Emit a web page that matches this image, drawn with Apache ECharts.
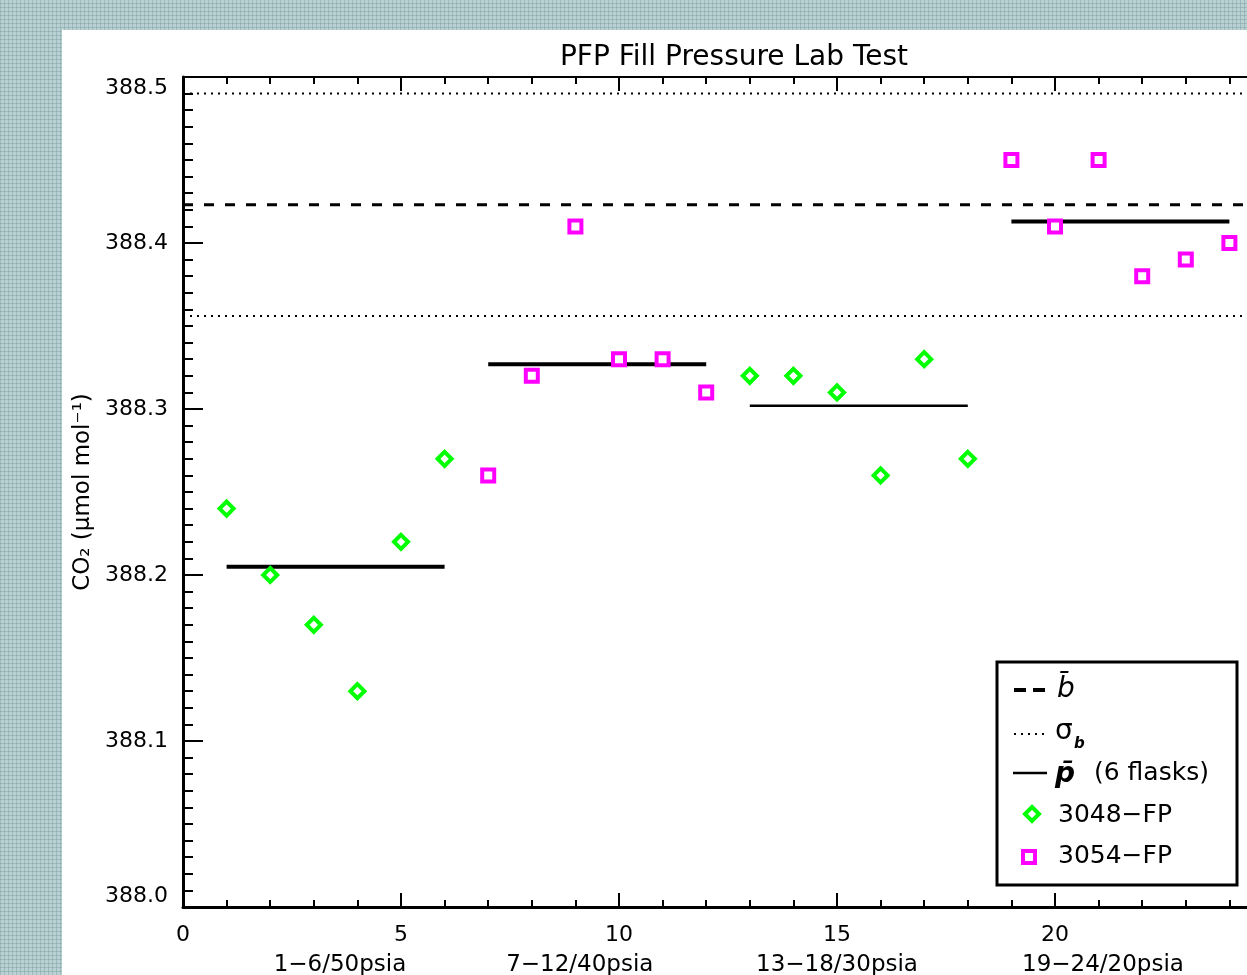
<!DOCTYPE html>
<html>
<head>
<meta charset="utf-8">
<script src="https://cdn.jsdelivr.net/npm/echarts@6/dist/echarts.min.js"></script>
<style>
html, body { margin: 0; padding: 0; width: 1247px; height: 975px; overflow: hidden; }
body {
  background-color: #b9d1d2;
  background-image:
    linear-gradient(90deg, rgba(120,158,162,0.45) 1px, transparent 1px),
    linear-gradient(0deg, rgba(120,158,162,0.45) 1px, transparent 1px);
  background-size: 4px 4px;
}
#panel { position: absolute; left: 62px; top: 30px; right: 0; bottom: 0; background: #ffffff; }
#chart { position: absolute; left: 0; top: 0; width: 1290px; height: 975px; }
</style>
</head>
<body>
<div id="panel"></div>
<div id="chart"></div>
<script>
// ---- data ----
const titleText = 'PFP Fill Pressure Lab Test';
const yAxisName = 'CO\u2082 (\u03bcmol mol\u207b\u00b9)';

const flask3048X = [1, 2, 3, 4, 5, 6, 13, 14, 15, 16, 17, 18];
const flask3048Y = [388.24, 388.20, 388.17, 388.13, 388.22, 388.27, 388.32, 388.32, 388.31, 388.26, 388.33, 388.27];
const flask3054X = [7, 8, 9, 10, 11, 12, 19, 20, 21, 22, 23, 24];
const flask3054Y = [388.26, 388.32, 388.41, 388.33, 388.33, 388.31, 388.45, 388.41, 388.45, 388.38, 388.39, 388.40];

const groupStart = [1, 7, 13, 19];
const groupEnd = [6, 12, 18, 24];
const groupMean = [388.205, 388.327, 388.302, 388.413];
const groupLineWidth = [4, 4, 2.5, 4];

const groupLabels = ['1\u22126/50psia', '7\u221212/40psia', '13\u221218/30psia', '19\u221224/20psia'];
const groupLabelX = [3.6, 9.1, 15.0, 21.1];

const bMean = 388.423;
const sigmaLow = 388.356;
const sigmaHigh = 388.490;

const xMin = 0, xMax = 25, xInterval = 5;
const yMin = 388.0, yMax = 388.5, yInterval = 0.1;

// ---- chart ----
const FONT = '"DejaVu Sans", "Liberation Sans", sans-serif';
const chart = echarts.init(document.getElementById('chart'), null, { renderer: 'canvas' });

function pair(x, y) { return [x, y]; }

const series = [];
series.push({
  type: 'line', name: 'b', silent: true, symbol: 'none', z: 2,
  data: [pair(xMin, bMean), pair(xMax, bMean)],
  lineStyle: { color: '#000', width: 3, type: [10, 11] }
});
[sigmaLow, sigmaHigh].forEach(v => {
  series.push({
    type: 'line', name: 'sigma', silent: true, symbol: 'none', z: 2,
    data: [pair(xMin, v), pair(xMax, v)],
    lineStyle: { color: '#000', width: 2, type: [2, 5] }
  });
});
groupMean.forEach((m, i) => {
  series.push({
    type: 'line', name: 'p', silent: true, symbol: 'none', z: 3,
    data: [pair(groupStart[i], m), pair(groupEnd[i], m)],
    lineStyle: { color: '#000', width: groupLineWidth[i], type: 'solid' }
  });
});
series.push({
  type: 'scatter', name: '3048-FP', z: 5,
  data: flask3048X.map((x, i) => [x, flask3048Y[i]]),
  symbol: 'diamond', symbolSize: 14,
  itemStyle: { color: '#ffffff', borderColor: '#00ff00', borderWidth: 4, opacity: 1 }
});
series.push({
  type: 'scatter', name: '3054-FP', z: 5,
  data: flask3054X.map((x, i) => [x, flask3054Y[i]]),
  symbol: 'rect', symbolSize: 12,
  itemStyle: { color: '#ffffff', borderColor: '#ff00ff', borderWidth: 4, opacity: 1 }
});

const axisCommon = {
  splitLine: { show: false },
  minorSplitLine: { show: false },
};

const option = {
  animation: false,
  backgroundColor: 'transparent',
  title: {
    text: titleText,
    left: 729, top: 39, textAlign: 'center',
    textStyle: { fontFamily: FONT, fontSize: 28, fontWeight: 'normal', color: '#000' }
  },
  grid: { left: 183, top: 77, right: 11, bottom: 68, containLabel: false },
  xAxis: [{
    type: 'value', position: 'bottom', min: xMin, max: xMax, interval: xInterval,
    ...axisCommon,
    axisLine: { show: true, onZero: false, lineStyle: { color: '#000', width: 3 } },
    axisTick: { show: true, inside: true, length: 14, lineStyle: { color: '#000', width: 2 } },
    minorTick: { show: true, splitNumber: 5, length: 7, lineStyle: { color: '#000', width: 2 } },
    axisLabel: { show: true, margin: 17, fontFamily: FONT, fontSize: 22, color: '#000' }
  }, {
    type: 'value', position: 'top', min: xMin, max: xMax, interval: xInterval,
    ...axisCommon,
    axisLine: { show: true, onZero: false, lineStyle: { color: '#000', width: 2 } },
    axisTick: { show: true, inside: true, length: 14, lineStyle: { color: '#000', width: 2 } },
    minorTick: { show: true, splitNumber: 5, length: 7, lineStyle: { color: '#000', width: 2 } },
    axisLabel: { show: false }
  }],
  yAxis: [{
    type: 'value', position: 'left', min: yMin, max: yMax, interval: yInterval,
    ...axisCommon,
    name: yAxisName, nameLocation: 'middle', nameGap: 86, nameRotate: 90,
    nameTextStyle: { fontFamily: FONT, fontSize: 23, color: '#000' },
    axisLine: { show: true, onZero: false, lineStyle: { color: '#000', width: 3 } },
    axisTick: { show: true, inside: true, length: 20, lineStyle: { color: '#000', width: 2 } },
    minorTick: { show: true, splitNumber: 10, length: 10, lineStyle: { color: '#000', width: 2 } },
    axisLabel: {
      show: true, margin: 15, fontFamily: FONT, fontSize: 22, color: '#000',
      formatter: v => v.toFixed(1),
      verticalAlignMinLabel: 'bottom', verticalAlignMaxLabel: 'top'
    }
  }, {
    type: 'value', position: 'right', min: yMin, max: yMax, interval: yInterval,
    ...axisCommon,
    axisLine: { show: true, onZero: false, lineStyle: { color: '#000', width: 2 } },
    axisTick: { show: true, inside: true, length: 20, lineStyle: { color: '#000', width: 2 } },
    minorTick: { show: true, splitNumber: 10, length: 10, lineStyle: { color: '#000', width: 2 } },
    axisLabel: { show: false }
  }],
  series: series
};
chart.setOption(option);

// ---- group labels under the axis and legend box ----
const graphics = [];
groupLabels.forEach((t, i) => {
  const px = chart.convertToPixel({ xAxisIndex: 0 }, groupLabelX[i]);
  graphics.push({
    type: 'text', x: px, y: 965,
    style: { text: t, fontFamily: FONT, fontSize: 23, fill: '#000', textAlign: 'center', textVerticalAlign: 'middle' }
  });
});

const LX = 997, LY = 662, LW = 240, LH = 223;
graphics.push({ type: 'rect', shape: { x: LX, y: LY, width: LW, height: LH }, style: { fill: '#fff', stroke: '#000', lineWidth: 3 }, z: 10 });
// row 1: dashed b-bar
graphics.push({ type: 'line', shape: { x1: 1014, y1: 690, x2: 1045, y2: 690 }, style: { stroke: '#000', lineWidth: 4, lineDash: [12, 7] }, z: 11 });
graphics.push({ type: 'text', x: 1057, y: 690, z: 11, style: { text: 'b\u0304', fontFamily: FONT, fontStyle: 'italic', fontSize: 28, fill: '#000', textVerticalAlign: 'middle' } });
// row 2: dotted sigma_b
graphics.push({ type: 'line', shape: { x1: 1014, y1: 734, x2: 1047, y2: 734 }, style: { stroke: '#000', lineWidth: 2, lineDash: [2, 5] }, z: 11 });
graphics.push({ type: 'text', x: 1055, y: 732, z: 11, style: { text: '\u03c3', fontFamily: FONT, fontSize: 28, fill: '#000', textVerticalAlign: 'middle' } });
graphics.push({ type: 'text', x: 1074, y: 744, z: 11, style: { text: 'b', fontFamily: FONT, fontStyle: 'italic', fontWeight: 'bold', fontSize: 15, fill: '#000', textVerticalAlign: 'middle' } });
// row 3: solid p-bar
graphics.push({ type: 'line', shape: { x1: 1013, y1: 773, x2: 1047, y2: 773 }, style: { stroke: '#000', lineWidth: 2.5 }, z: 11 });
graphics.push({ type: 'text', x: 1055, y: 775, z: 11, style: { text: 'p\u0304', fontFamily: FONT, fontStyle: 'italic', fontWeight: 'bold', fontSize: 28, fill: '#000', textVerticalAlign: 'middle' } });
graphics.push({ type: 'text', x: 1094, y: 773, z: 11, style: { text: '(6 flasks)', fontFamily: FONT, fontSize: 25, fill: '#000', textVerticalAlign: 'middle' } });
// row 4: green diamond
graphics.push({ type: 'polygon', z: 11, shape: { points: [[1032, 807], [1039, 814], [1032, 821], [1025, 814]] }, style: { fill: '#fff', stroke: '#00ff00', lineWidth: 4 } });
graphics.push({ type: 'text', x: 1058, y: 815, z: 11, style: { text: '3048\u2212FP', fontFamily: FONT, fontSize: 25, fill: '#000', textVerticalAlign: 'middle' } });
// row 5: magenta square
graphics.push({ type: 'rect', z: 11, shape: { x: 1023, y: 851, width: 12, height: 12 }, style: { fill: '#fff', stroke: '#ff00ff', lineWidth: 4 } });
graphics.push({ type: 'text', x: 1058, y: 856, z: 11, style: { text: '3054\u2212FP', fontFamily: FONT, fontSize: 25, fill: '#000', textVerticalAlign: 'middle' } });

chart.setOption({ graphic: graphics });
</script>
</body>
</html>
